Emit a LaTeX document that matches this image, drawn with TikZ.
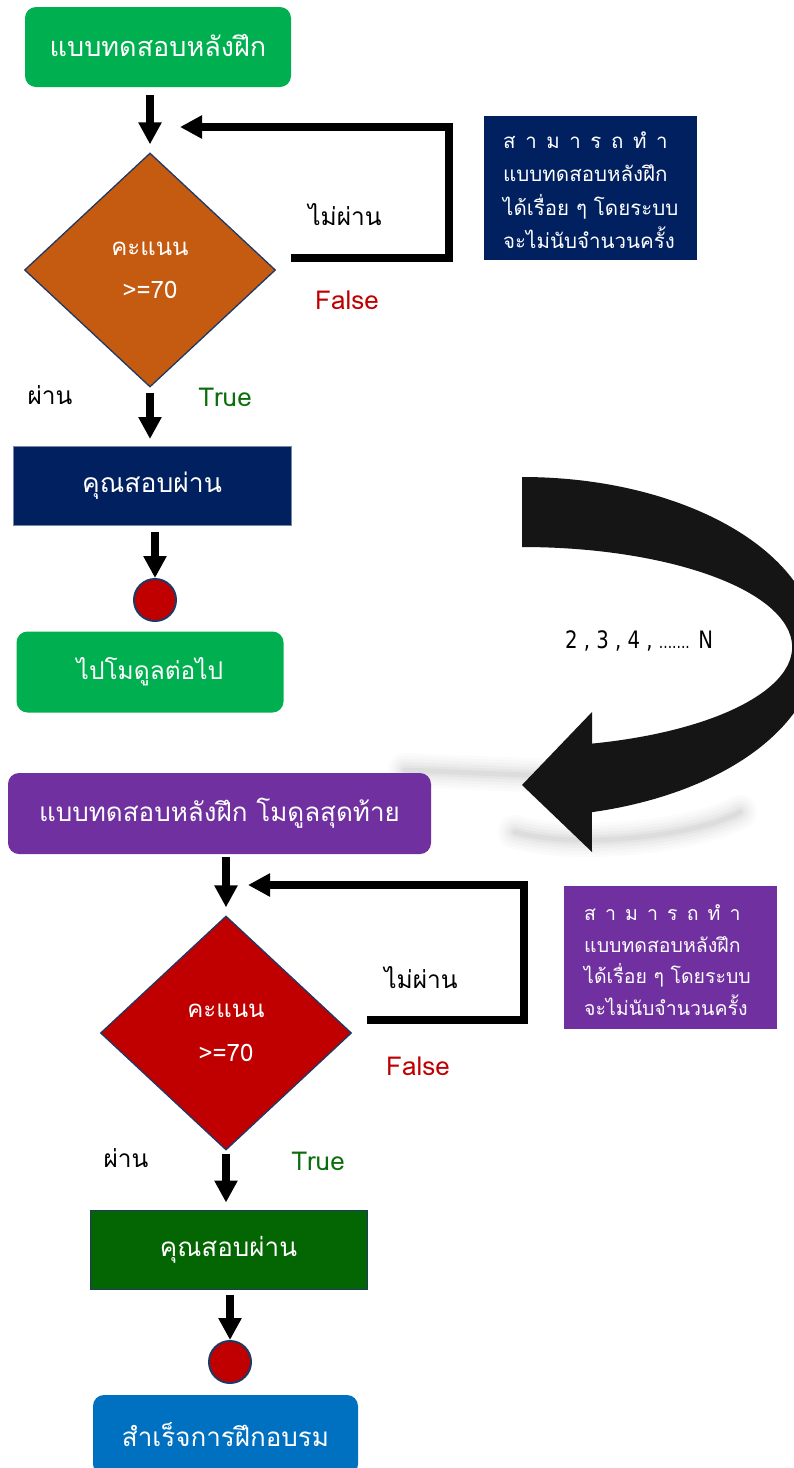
\documentclass[tikz,border=0pt]{standalone}
\usepackage{fontspec}
\usepackage{graphicx}
\setmainfont[Script=Thai]{Loma}
\newfontfamily\dejavu{DejaVu Sans}
\usetikzlibrary{arrows.meta,shapes.geometric}
\newsavebox\notebox
\newcommand{\spreadline}{\sbox\notebox{แบบทดสอบหลังฝึก}\hbox to \wd\notebox{ส\hfill า\hfill ม\hfill า\hfill ร\hfill ถ\hfill ทํ\hfill า}}
\definecolor{cgreen}{HTML}{00B050}
\definecolor{cnavy}{HTML}{002060}
\definecolor{corange}{HTML}{C55A11}
\definecolor{cred}{HTML}{C00000}
\definecolor{cpurple}{HTML}{7030A0}
\definecolor{cdgreen}{HTML}{036603}
\definecolor{cblue}{HTML}{0070C0}
\definecolor{cborder}{HTML}{1F3864}
\definecolor{ctrue}{HTML}{0B6E0B}
\definecolor{cbig}{HTML}{151515}
\begin{document}
\begin{tikzpicture}[x=1pt,y=-1pt,
  rbox/.style={rounded corners=11pt, text=white, inner sep=0pt},
  sqbox/.style={draw=#1, line width=1pt, text=white, inner sep=0pt},
  dia/.style={shape=diamond, draw=cborder, line width=1.3pt, text=white, inner sep=0pt,
              align=center, minimum width=251pt, minimum height=234pt},
  dot/.style={circle, fill=cred, draw=cborder, line width=2pt, minimum size=42pt, inner sep=0pt},
  note/.style={inner sep=0pt, text=white, align=left},
  lbl/.style={inner sep=0pt, font=\fontsize{24.5}{28}\selectfont},
  tf/.style={inner sep=0pt, font=\fontsize{26}{28}\selectfont},
  flow/.style={line width=7.5pt, draw=black, -{Triangle[width=22pt,length=22pt]}},
  loopline/.style={line width=7.5pt, draw=black, line join=miter, -{Triangle[width=22pt,length=22pt]}}
]
\useasboundingbox (0,0) rectangle (793,1468);
\fill[white] (0,0) rectangle (793,1468);

% ---------- top section ----------
\node[rbox, fill=cgreen, minimum width=266pt, minimum height=80pt, font=\fontsize{27}{30}\selectfont] (b1) at (158,47) {\raisebox{3pt}{แบบทดสอบหลังฝึก}};
\node[dia, fill=corange, font=\fontsize{24}{43}\selectfont] (d1) at (150,270) {คะแนน\\>=70};
\node[sqbox=cborder!60, fill=cnavy, minimum width=278pt, minimum height=79pt, font=\fontsize{26.5}{30}\selectfont] (p1) at (152,486) {\raisebox{5pt}{คุณสอบผ่าน}};
\node[dot] (c1) at (155,600) {};
\node[rbox, fill=cgreen, minimum width=267pt, minimum height=81pt, font=\fontsize{24.5}{30}\selectfont] (g1) at (150,672) {\raisebox{3pt}{ไปโมดูลต่อไป}};

\draw[flow, shorten <=8pt, shorten >=8pt] (d1.north |- b1.south) -- (d1.north);
\draw[flow, shorten <=5pt, shorten >=7pt] (d1.south) -- (p1.north -| d1.south);
\draw[flow, shorten <=6pt] (c1.north |- p1.south) -- (c1.north);

\coordinate (l1s) at (291,258);
\coordinate (l1e) at (180,127);
\draw[loopline] (l1s) -- (449,258) -- (449,127) -- (l1e);

\node[lbl] (t1) at (345,215) {ไม่ผ่าน};
\node[tf, text=cred] (f1) at (347,300) {False};
\node[lbl] (pa1) at (50,395) {ผ่าน};
\node[tf, text=ctrue] (tr1) at (225,397) {True};

\node[note, fill=cnavy, minimum width=213pt, minimum height=144pt] (n1box) at (590.5,188) {};
\node[note, anchor=west, font=\fontsize{20.5}{33.5}\selectfont] (n1) at (503,190)
  {\spreadline\\ แบบทดสอบหลังฝึก\\ ได้เรื่อย ๆ โดยระบบ\\ จะไม่นับจำนวนครั้ง};

% ---------- big curved arrow ----------
\foreach \w/\o in {34/0.03,28/0.03,22/0.04,16/0.05,10/0.06,5/0.07}{
  \draw[line width=\w pt, gray, opacity=\o, line cap=round] (405,770) -- (550,776);
  \draw[line width=\w pt, gray, opacity=\o, line cap=round] (515,832) .. controls (580,850) and (700,835) .. (740,812);
}
\fill[cbig] (522,477) arc[start angle=-90, end angle=76.3, x radius=295, y radius=170]
  -- (592,852) -- (522,785) -- (592,712) -- (592,743.6)
  arc[start angle=75, end angle=-90, x radius=270, y radius=100] -- cycle;
\node[inner sep=0pt, font=\dejavu\fontsize{24}{26}\selectfont] (nn) at (639,641) {\scalebox{0.82}[1]{2 , 3 , 4 , {\fontsize{17}{20}\selectfont .......} N}};

% ---------- bottom section ----------
\node[rbox, fill=cpurple, minimum width=423pt, minimum height=81pt, font=\fontsize{26}{30}\selectfont] (b2) at (219.5,813.5) {\raisebox{4pt}{แบบทดสอบหลังฝึก โมดูลสุดท้าย}};
\node[dia, fill=cred, font=\fontsize{24}{44}\selectfont] (d2) at (226,1033) {คะแนน\\>=70};
\node[sqbox=cborder, fill=cdgreen, minimum width=277pt, minimum height=79pt, font=\fontsize{26}{30}\selectfont] (p2) at (228.5,1249.5) {\raisebox{5pt}{คุณสอบผ่าน}};
\node[dot] (c2) at (230,1362) {};
\node[rbox, fill=cblue, minimum width=265pt, minimum height=80pt, font=\fontsize{26}{30}\selectfont] (g2) at (225.5,1435) {\raisebox{2pt}{สำเร็จการฝึกอบรม}};

\draw[flow, shorten <=3pt, shorten >=8pt] (d2.north |- b2.south) -- (d2.north);
\draw[flow, shorten <=3pt, shorten >=7pt] (d2.south) -- (p2.north -| d2.south);
\draw[flow, shorten <=5pt] (c2.north |- p2.south) -- (c2.north);

\coordinate (l2s) at (367,1020);
\coordinate (l2e) at (248,885);
\draw[loopline] (l2s) -- (524,1020) -- (524,885) -- (l2e);

\node[lbl] (t2) at (421,978) {ไม่ผ่าน};
\node[tf, text=cred] (f2) at (418,1066) {False};
\node[lbl] (pa2) at (126,1158) {ผ่าน};
\node[tf, text=ctrue] (tr2) at (318,1161) {True};

\node[note, fill=cpurple, minimum width=213pt, minimum height=143pt] (n2box) at (670.5,957.5) {};
\node[note, anchor=west, font=\fontsize{19.5}{31.7}\selectfont] (n2) at (584,960)
  {\spreadline\\ แบบทดสอบหลังฝึก\\ ได้เรื่อย ๆ โดยระบบ\\ จะไม่นับจำนวนครั้ง};
\end{tikzpicture}
\end{document}
